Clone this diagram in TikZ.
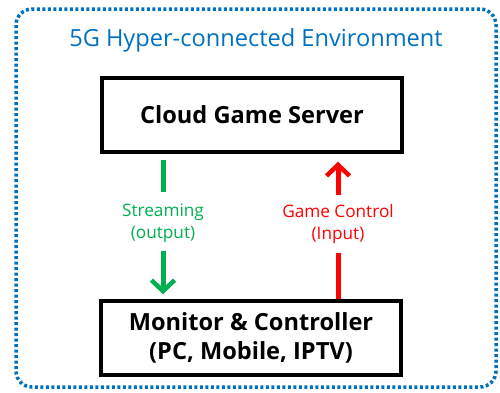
\documentclass[tikz,border=0pt]{standalone}
\usepackage{fontspec}
\setmainfont{Open Sans}
\usetikzlibrary{arrows.meta}
\definecolor{envblue}{RGB}{0,112,192}
\definecolor{streamgreen}{RGB}{0,176,80}
\definecolor{ctrlred}{RGB}{255,0,0}
\tikzset{
  envframe/.style={draw=envblue, line width=3.5pt, dash pattern=on 3pt off 2.5pt, rounded corners=16pt},
  blockbox/.style={draw=black, line width=3.5pt, minimum width=300pt, minimum height=74pt, align=center, font=\bfseries\fontsize{23.6}{29}\selectfont},
  flowlabel/.style={align=center, font=\fontsize{17.2}{22}\selectfont},
  flowarrow/.style={line width=5pt, -{Straight Barb[length=11pt,width=23pt,line width=4.5pt]}},
  flowline/.style={line width=5pt}
}
\begin{document}
\begin{tikzpicture}[x=1pt,y=-1pt]
\useasboundingbox (0,0) rectangle (500,392);
% environment boundary
\draw[envframe] (16,9) rectangle (496,387);
\node[text=envblue, font=\fontsize{23.6}{28}\selectfont] (env) at (256,40) {5G Hyper-connected Environment};
% server and client blocks
\node[blockbox] (server) at (252,115) {Cloud Game Server};
\node[blockbox] (client) at (251,338) {Monitor \& Controller\\(PC, Mobile, IPTV)};
% stream labels
\node[flowlabel, text=streamgreen] (stream) at (163,223) {Streaming\\(output)};
\node[flowlabel, text=ctrlred] (control) at (338,224) {Game Control\\(Input)};
% downstream (green): stub below the server, arrow into the client
\coordinate (gtop) at ([yshift=-6pt]stream.north |- server.south);
\coordinate (gmid) at ([yshift=8pt]stream.north);
\coordinate (gbot) at ([yshift=-5pt]stream.south);
\coordinate (gend) at ([yshift=5pt]stream.south |- client.north);
\draw[flowline, streamgreen] (gtop) -- (gmid);
\draw[flowarrow, streamgreen] (gbot) -- (gend);
% upstream (red): stub above the client, arrow into the server
\coordinate (rbot) at (control.south |- client.north);
\coordinate (rmid) at ([yshift=-6pt]control.south);
\coordinate (rtop) at ([yshift=6pt]control.north);
\coordinate (rend) at ([yshift=-8pt]control.north |- server.south);
\draw[flowline, ctrlred] (rbot) -- (rmid);
\draw[flowarrow, ctrlred] (rtop) -- (rend);
\end{tikzpicture}
\end{document}
